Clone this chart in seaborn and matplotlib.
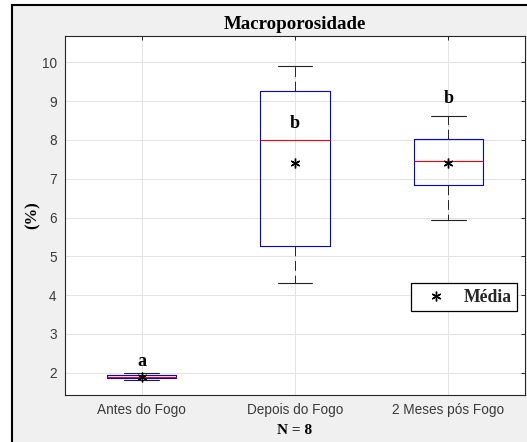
import numpy as np
import pandas as pd
import matplotlib
matplotlib.use("Agg")
import matplotlib.pyplot as plt
from matplotlib.lines import Line2D
from matplotlib.patches import Rectangle
import seaborn as sns

# ---- data (8 observations per group, read from the box statistics) ----
categories = ["Antes do Fogo", "Depois do Fogo", "2 Meses pós Fogo"]
antes = [1.80, 1.85, 1.87, 1.89, 1.91, 1.935, 1.955, 1.99]
depois = [4.30, 5.00, 5.36, 7.80, 8.20, 9.18, 9.54, 9.90]
meses2 = [5.94, 6.72, 6.88, 7.30, 7.62, 8.00, 8.12, 8.62]
letters = ["a", "b", "b"]
letter_y = [2.28, 8.43, 9.07]
yticks = [2, 3, 4, 5, 6, 7, 8, 9, 10]

df = pd.DataFrame({
    "grupo": np.repeat(categories, 8),
    "valor": antes + depois + meses2,
})

sns.set_theme(style="white")
plt.rcParams["font.family"] = ["Liberation Sans", "DejaVu Sans"]

W, H = 527, 442
fig = plt.figure(figsize=(W / 100, H / 100), dpi=100)
fig.patch.set_facecolor("white")
frame = Rectangle((12 / W, -0.2), 1.3, 1.2 - 5 / H,
                  transform=fig.transFigure, facecolor="#f0f0f0",
                  edgecolor="black", linewidth=1.5, zorder=-10)
fig.patches.append(frame)

ax = fig.add_axes([65 / W, 1 - 395 / H, 460 / W, 359 / H])
ax.set_zorder(1)
ax.set_facecolor("white")

sns.boxplot(data=df, x="grupo", y="valor", order=categories, ax=ax,
            whis=(0, 100), width=0.45, fill=False, linewidth=0.8,
            showmeans=True,
            meanprops=dict(marker=(6, 2, 0), markeredgecolor="black",
                           markerfacecolor="black", markersize=7,
                           markeredgewidth=1.0),
            boxprops=dict(color="#0000ff", linewidth=0.8),
            medianprops=dict(color="#ff0000", linewidth=0.8),
            whiskerprops=dict(color="#222222", linewidth=0.7,
                              linestyle=(0, (10, 5))),
            capprops=dict(color="#222222", linewidth=0.8),
            showfliers=False)

ax.set_xlim(-0.5, 2.5)
ax.set_ylim(1.425, 10.68)
ax.set_yticks(yticks)
ax.grid(True, color="#e3e3e3", linewidth=0.7)
ax.set_axisbelow(True)
for s in ax.spines.values():
    s.set_color("#262626")
    s.set_linewidth(0.8)
ax.tick_params(axis="both", direction="in", length=3, width=0.7,
               colors="#262626", labelsize=9.8, top=True, right=True,
               labelcolor="#3a3a3a")
ax.tick_params(axis="y", pad=6)
ax.tick_params(axis="x", pad=6)

serif = ["Liberation Serif", "DejaVu Serif"]
for i, (lt, ly) in enumerate(zip(letters, letter_y)):
    ax.text(i, ly, lt, ha="center", va="center", fontsize=13,
            fontweight="bold", family=serif, color="black")

ax.set_title("Macroporosidade", fontsize=13.6, fontweight="bold",
             family=serif, color="black", pad=5)
ax.set_xlabel("N = 8", fontsize=11, fontweight="bold", family=serif,
              color="black", labelpad=5)
ax.set_ylabel("(%)", fontsize=12, fontweight="bold", family=serif,
              color="black", labelpad=1)

handle = Line2D([], [], linestyle="none", marker=(6, 2, 0),
                markeredgecolor="black", markersize=7, markeredgewidth=1.0)
leg = ax.legend([handle], ["Média"], loc="lower right",
                bbox_to_anchor=(0.9826, 0.234), borderaxespad=0,
                fancybox=False, edgecolor="black", framealpha=1,
                prop=dict(family=serif, weight="bold", size=12.7),
                handlelength=2.3, handletextpad=0.4, borderpad=0.3)
leg.get_frame().set_linewidth(0.9)

fig.savefig("out.png", dpi=100)
